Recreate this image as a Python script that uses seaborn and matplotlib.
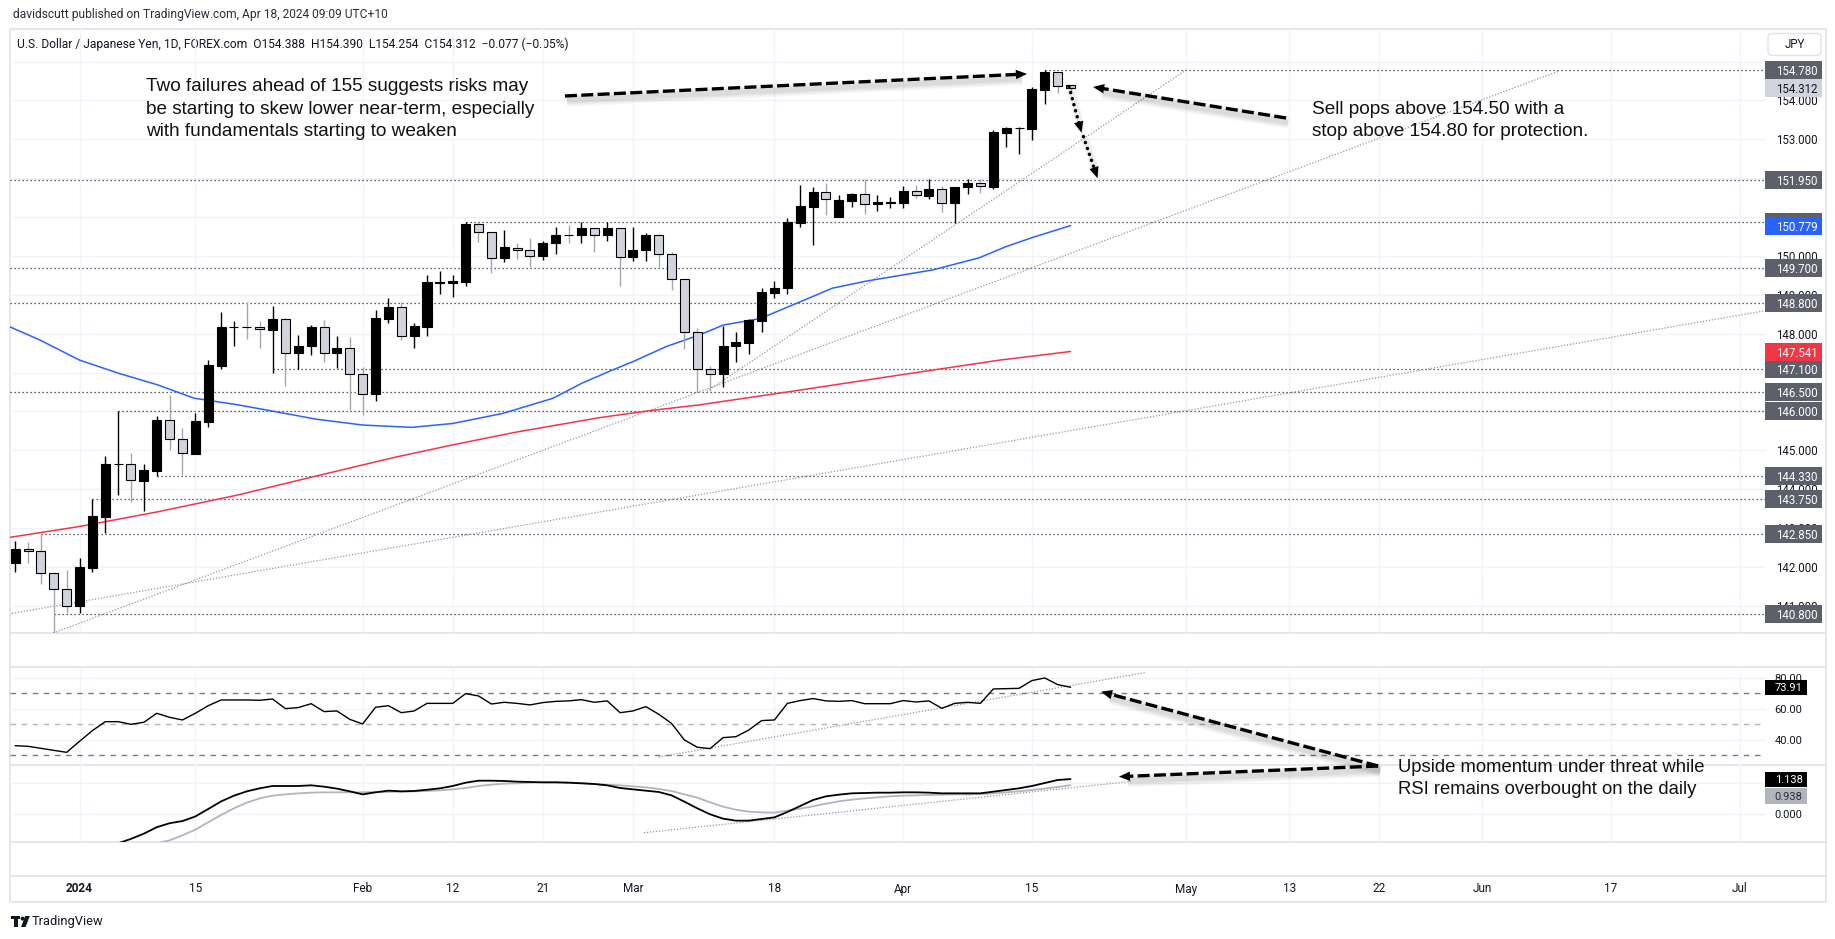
import numpy as np
import pandas as pd
import matplotlib
matplotlib.use("Agg")
import matplotlib.pyplot as plt
import matplotlib.transforms as mtrans
from matplotlib.patches import FancyArrowPatch, Rectangle, FancyBboxPatch, Circle, Polygon
from matplotlib import patheffects as pe
import seaborn as sns

# ---------------- DATA ----------------
# trading-day index: 0 = 2 Jan 2024
bar_idx = list(range(-5, 78))
opens = [142.11, 142.46, 142.41, 141.84, 141.43, 141.00, 141.98, 143.29, 144.64, 144.64,
         144.22, 144.47, 145.78, 145.28, 144.91, 145.74, 147.18, 148.17, 148.17, 148.17,
         148.10, 148.38, 147.51, 147.67, 148.17, 147.51, 147.62, 146.95, 146.44, 148.39,
         148.69, 147.95, 148.18, 149.31, 149.30, 149.34, 150.81, 150.61, 149.94, 150.21,
         150.14, 150.01, 150.32, 150.54, 150.53, 150.71, 150.53, 150.71, 149.98, 150.14,
         150.54, 150.04, 149.40, 148.05, 147.08, 146.95, 147.67, 147.77, 148.33, 149.05,
         149.17, 150.85, 151.27, 151.64, 151.01, 151.42, 151.59, 151.33, 151.35, 151.35,
         151.67, 151.55, 151.72, 151.35, 151.76, 151.87, 151.78, 153.17, 153.28, 153.26,
         154.27, 154.72, 154.388]
highs = [142.67, 142.65, 142.84, 141.84, 141.92, 142.22, 143.74, 144.85, 146.01, 144.94,
         144.64, 145.87, 146.42, 145.57, 145.97, 147.32, 148.55, 148.33, 148.81, 148.33,
         148.71, 148.41, 147.97, 148.22, 148.35, 147.94, 147.91, 147.15, 148.61, 148.93,
         148.81, 148.27, 149.51, 149.60, 149.51, 150.88, 150.86, 150.61, 150.67, 150.32,
         150.45, 150.39, 150.75, 150.80, 150.86, 150.71, 150.88, 150.71, 150.75, 150.58,
         150.56, 150.11, 149.40, 148.14, 147.17, 148.20, 148.05, 148.37, 149.17, 149.35,
         150.97, 151.82, 151.78, 151.88, 151.57, 151.63, 151.99, 151.57, 151.51, 151.80,
         151.82, 151.98, 151.80, 151.78, 151.97, 151.97, 153.24, 153.31, 153.32, 154.34,
         154.78, 154.72, 154.390]
lows = [141.88, 142.11, 141.56, 140.25, 140.81, 140.81, 141.88, 142.88, 143.84, 143.68,
        143.45, 144.34, 145.01, 144.36, 144.91, 145.61, 147.09, 147.69, 147.86, 147.64,
        147.00, 146.66, 147.09, 147.44, 147.28, 147.11, 146.04, 145.91, 146.28, 148.27,
        147.84, 147.64, 147.95, 149.02, 148.95, 149.23, 150.37, 149.57, 149.85, 149.91,
        149.71, 149.90, 150.04, 150.32, 150.32, 150.11, 150.39, 149.23, 149.88, 149.88,
        149.71, 149.12, 147.61, 146.51, 146.52, 146.64, 147.26, 147.47, 148.05, 148.93,
        149.02, 150.75, 150.28, 151.04, 151.01, 151.25, 151.07, 151.16, 151.22, 151.24,
        151.48, 151.46, 151.14, 150.84, 151.59, 151.61, 151.71, 152.79, 152.62, 152.98,
        153.91, 154.20, 154.254]
closes = [142.45, 142.40, 141.84, 141.43, 141.00, 141.99, 143.31, 144.65, 144.66, 144.23,
          144.50, 145.78, 145.28, 144.92, 145.75, 147.20, 148.17, 148.18, 148.16, 148.11,
          148.38, 147.51, 147.68, 148.17, 147.51, 147.62, 146.95, 146.44, 148.40, 148.69,
          147.95, 148.20, 149.33, 149.32, 149.36, 150.81, 150.61, 149.94, 150.23, 150.14,
          150.01, 150.34, 150.54, 150.53, 150.71, 150.53, 150.71, 149.98, 150.15, 150.54,
          150.04, 149.40, 148.05, 147.08, 146.95, 147.68, 147.78, 148.35, 149.06, 149.17,
          150.86, 151.28, 151.64, 151.46, 151.44, 151.59, 151.34, 151.39, 151.38, 151.67,
          151.56, 151.72, 151.35, 151.76, 151.87, 151.79, 153.18, 153.30, 153.29, 154.28,
          154.72, 154.38, 154.312]

ma_fast_k = [-5.44, -3.1, 0, 3.05, 6.1, 8.9, 12.3, 15.3, 18.4, 22, 25.8, 29, 32.9, 36.8, 39.0,
             41.3, 43.0, 45.6, 48.2, 50.0, 52.9, 56.0, 58.5, 61.1, 66.3, 69.9, 72.0, 74.1, 77.0]
ma_fast_v = [148.18, 147.84, 147.32, 146.98, 146.68, 146.34, 146.17, 145.99, 145.80, 145.65, 145.59,
             145.69, 145.95, 146.34, 146.72, 147.05, 147.28, 147.67, 147.97, 148.22, 148.39, 148.82,
             149.17, 149.35, 149.64, 149.95, 150.24, 150.48, 150.779]
ma_slow_k = [-5.44, 0, 6.1, 12.3, 18.4, 24.5, 29, 33.8, 40.4, 44.3, 48.2, 56, 63.8, 71.5, 77]
ma_slow_v = [142.76, 143.04, 143.42, 143.85, 144.34, 144.82, 145.14, 145.46, 145.84, 146.02,
             146.17, 146.55, 146.94, 147.32, 147.541]

rsi_vals = [36.2, 35.8, 34.5, 33.2, 31.9, 39.0, 45.9, 51.7, 51.7, 50.0,
            51.3, 57.1, 54.5, 52.8, 57.1, 62.0, 65.7, 65.7, 65.7, 65.5,
            66.3, 60.1, 60.8, 63.3, 58.2, 58.6, 53.2, 50.2, 61.0, 62.0,
            57.5, 58.6, 63.5, 63.5, 63.5, 69.8, 68.3, 63.1, 64.2, 63.5,
            62.5, 64.0, 64.8, 65.1, 65.9, 64.2, 65.1, 57.5, 58.6, 61.4,
            56.5, 50.6, 39.9, 35.2, 34.3, 41.4, 42.0, 46.3, 52.4, 52.8,
            63.5, 65.3, 66.6, 65.1, 64.8, 65.3, 63.3, 63.3, 63.3, 65.3,
            64.4, 65.1, 60.3, 63.5, 64.2, 63.5, 72.8, 73.0, 73.2, 78.2,
            79.9, 75.6, 73.91]
macd_k = list(range(3, 78))
macd_vals = [-0.955, -0.81, -0.64, -0.43, -0.30, -0.23, -0.08, 0.163, 0.41, 0.597,
             0.738, 0.836, 0.912, 0.912, 0.912, 0.934, 0.89, 0.826, 0.738, 0.64,
             0.706, 0.76, 0.738, 0.749, 0.79, 0.836, 0.912, 1.02, 1.085, 1.085,
             1.075, 1.053, 1.042, 1.031, 1.031, 1.02, 0.999, 0.977, 0.934, 0.847,
             0.803, 0.76, 0.717, 0.608, 0.402, 0.185, -0.01, -0.152, -0.217, -0.217,
             -0.163, -0.109, 0.065, 0.26, 0.456, 0.576, 0.63, 0.673, 0.684, 0.695,
             0.695, 0.706, 0.706, 0.695, 0.673, 0.673, 0.673, 0.673, 0.727, 0.782,
             0.836, 0.912, 1.01, 1.107, 1.138]
signal_k = list(range(6, 78))
signal_vals = [-0.955, -0.857, -0.695, -0.51, -0.27, -0.033, 0.185, 0.37, 0.51, 0.597,
               0.64, 0.673, 0.695, 0.706, 0.706, 0.706, 0.706, 0.717, 0.717, 0.727,
               0.738, 0.749, 0.77, 0.803, 0.847, 0.912, 0.955, 0.988, 0.999, 1.02,
               1.031, 1.031, 1.02, 1.01, 0.977, 0.955, 0.934, 0.901, 0.869, 0.815,
               0.749, 0.64, 0.532, 0.38, 0.239, 0.141, 0.076, 0.054, 0.043, 0.109,
               0.174, 0.25, 0.337, 0.413, 0.467, 0.51, 0.543, 0.576, 0.597, 0.608,
               0.619, 0.63, 0.64, 0.64, 0.651, 0.673, 0.706, 0.738, 0.782, 0.826,
               0.88, 0.938]

level_prices = [154.78, 151.95, 150.88, 149.70, 148.80, 147.10, 146.50, 146.00, 144.33, 143.75, 142.85, 140.80]
level_start = [75, -5.44, 30, -5.44, -5.44, 15, -5.44, 3, 6, 1, -3, -2]

trend_lines = [((-2.06, 140.30), (115.0, 154.76)),
               ((-5.48, 140.79), (130.96, 148.59)),
               ((48.76, 146.52), (85.97, 154.78))]
rsi_trend = ((45.0, 28.9), (82.9, 83.5))
macd_trend = ((43.86, -0.61), (81.7, 1.06))

date_ticks_k = [0, 9, 22, 29, 36, 43, 54, 64, 74, 86, 94, 101, 109, 119, 129]
date_ticks_lbl = ["2024", "15", "Feb", "12", "21", "Mar", "18", "Apr", "15", "May", "13", "22", "Jun", "17", "Jul"]
price_grid = list(range(141, 156))
price_tick_lbl = [141, 142, 143, 144, 145, 148, 149, 150, 153, 154]
rsi_grid = [80, 60, 40]
rsi_bands = [70, 50, 30]
macd_grid = [0.0, 1.0]

last_price = 154.312
ma_fast_last = 150.779
ma_slow_last = 147.541
rsi_last = 73.91
macd_last = 1.138
signal_last = 0.938

header_txt = "davidscutt published on TradingView.com, Apr 18, 2024 09:09 UTC+10"
legend_txt = "U.S. Dollar / Japanese Yen, 1D, FOREX.com  O154.388  H154.390  L154.254  C154.312  \u22120.077 (\u22120.05%)"
note_left = ["Two failures ahead of 155 suggests risks may",
             "be starting to skew lower near-term, especially",
             "with fundamentals starting to weaken"]
note_left_pos = (5.17, [154.229, 153.650, 153.072])
note_right = ["Sell pops above 154.50 with a", "stop above 154.80 for protection."]
note_right_pos = (95.73, [153.650, 153.072])
note_low = ["Upside momentum under threat while", "RSI remains overbought on the daily"]
note_low_pos = (102.45, [1.378, 0.651])

# arrows (start, end) in data coords of the pane they sit in
arrow_top = ((37.72, 154.113), (73.62, 154.68))
arrow_right = ((93.75, 153.547), (78.75, 154.345))
dots1 = ((76.88, 154.357), (77.86, 153.169))
dots2 = ((78.0, 153.07), (79.1, 152.0))
arrow_low_start = (100.9, 1.563)      # macd pane
arrow_low_rsi_end = (79.37, 71.03)    # rsi pane
arrow_low_macd_end = (80.76, 1.215)   # macd pane

# ---------------- STYLE ----------------
sns.set_theme(style="white")
plt.rcParams['font.family'] = ['Liberation Sans', 'DejaVu Sans']
UI = ['Roboto', 'DejaVu Sans']
TXT = '#131722'
GRID = '#f0f3fa'
BORDER = '#e0e3eb'

W, H, DPI = 1835, 939, 100
fig = plt.figure(figsize=(W / DPI, H / DPI), dpi=DPI, facecolor='white')


def px_box(x0, y0, x1, y1):
    return [x0 / W, 1 - y1 / H, (x1 - x0) / W, (y1 - y0) / H]


PL, PR = 9.5, 1766.0
XL, XR = -5.44, 131.04

ov = fig.add_axes([0, 0, 1, 1])
ov.set_xlim(0, W)
ov.set_ylim(H, 0)
ov.axis('off')
ov.set_zorder(-5)

ax = fig.add_axes(px_box(PL, 29, PR, 632.5))
ax_r = fig.add_axes(px_box(PL, 667, PR, 765))
ax_m = fig.add_axes(px_box(PL, 765, PR, 842))
ax_x = fig.add_axes(px_box(PL, 876, PR, 902))
YL = {ax: (140.314, 155.836), ax_r: (23.74, 86.97), ax_m: (-0.912, 1.596), ax_x: (0, 1)}


def fix_axes():
    for a, yl in YL.items():
        a.set_xlim(XL, XR)
        a.set_ylim(*yl)


for a in (ax, ax_r, ax_m, ax_x):
    a.set_facecolor('none')
    for s in a.spines.values():
        s.set_visible(False)
    a.set_xticks([])
    a.set_yticks([])
    a.grid(False)
fix_axes()

# pane borders
for y in (29, 632.5, 667, 765, 842, 876, 902):
    ov.plot([PL, 1825.5], [y, y], color=BORDER, lw=1.2, solid_capstyle='butt')
for x in (PL, 1825.5):
    ov.plot([x, x], [29, 902], color=BORDER, lw=1.2)

# grids
for a in (ax, ax_r, ax_m):
    for k in date_ticks_k:
        a.axvline(k, color=GRID, lw=1, zorder=0)
for p in price_grid:
    ax.axhline(p, color=GRID, lw=1, zorder=0)
for v in rsi_grid:
    ax_r.axhline(v, color=GRID, lw=1, zorder=0)
for v in macd_grid:
    ax_m.axhline(v, color=GRID, lw=1, zorder=0)

# horizontal levels
for p, k0 in zip(level_prices, level_start):
    ax.plot([k0, XR], [p, p], color='#2a2e39', lw=0.9, ls=(0, (1, 2.2)), zorder=1)

# trend lines
for (x0, y0), (x1, y1) in trend_lines:
    ax.plot([x0, x1], [y0, y1], color='#9598a1', lw=0.9, ls=(0, (1, 1.4)), zorder=1)
ax_r.plot([rsi_trend[0][0], rsi_trend[1][0]], [rsi_trend[0][1], rsi_trend[1][1]],
          color='#9598a1', lw=0.9, ls=(0, (1, 1.4)), zorder=1)
ax_m.plot([macd_trend[0][0], macd_trend[1][0]], [macd_trend[0][1], macd_trend[1][1]],
          color='#9598a1', lw=0.9, ls=(0, (1, 1.4)), zorder=1)

# moving averages
sns.lineplot(x=ma_fast_k, y=ma_fast_v, ax=ax, color='#2962ff', lw=1.1, zorder=2)
sns.lineplot(x=ma_slow_k, y=ma_slow_v, ax=ax, color='#f23645', lw=1.1, zorder=2)

# candles
kk = np.array(bar_idx, float)
o, h, l, c = (np.array(v, float) for v in (opens, highs, lows, closes))
up = c >= o
ax.vlines(kk[up], l[up], h[up], color='#000000', lw=1, zorder=3)
ax.vlines(kk[~up], l[~up], h[~up], color='#a3a6af', lw=1, zorder=3)
ax.bar(kk[up], (c - o)[up], bottom=o[up], width=0.7, color='#000000', edgecolor='#000000', lw=0.8, zorder=4)
ax.bar(kk[~up], (o - c)[~up], bottom=c[~up], width=0.7, color='#d1d4dc', edgecolor='#000000', lw=0.8, zorder=4)

# RSI pane
rsi_k = list(range(-5, -5 + len(rsi_vals)))
for v, col in zip(rsi_bands, ['#787b86', '#b2b5be', '#787b86']):
    ax_r.axhline(v, color=col, lw=1, ls=(0, (4, 4)), zorder=1)
sns.lineplot(x=rsi_k, y=rsi_vals, ax=ax_r, color='#000000', lw=1.0, zorder=3)

# MACD pane
sns.lineplot(x=signal_k, y=signal_vals, ax=ax_m, color='#b2b5be', lw=1.3, zorder=2)
sns.lineplot(x=macd_k, y=macd_vals, ax=ax_m, color='#000000', lw=1.3, zorder=3)

for a in (ax, ax_r, ax_m, ax_x):
    a.set_xlabel('')
    a.set_ylabel('')
    a.set_xticks([])
    a.set_yticks([])
fix_axes()


# ---------------- right-hand scale labels ----------------
def right_label(a, y, text, face, tc, x0, x1, hpx, fs=8.3, dy=0.0, z=20):
    pos = a.get_position()
    aw, ah = pos.width * W, pos.height * H
    lo, hi = a.get_ylim()
    dpp = (hi - lo) / ah
    left = pos.x0 * W
    f0 = (x0 - left) / aw
    f1 = (x1 - left) / aw
    yc = y + dy * dpp
    tr = mtrans.blended_transform_factory(a.transAxes, a.transData)
    if face is not None:
        a.add_patch(Rectangle((f0, yc - hpx / 2 * dpp), f1 - f0, hpx * dpp, transform=tr,
                              facecolor=face, edgecolor='none', clip_on=False, zorder=z))
    a.text(f1 - 4.5 / aw, yc, text, transform=tr, ha='right', va='center_baseline', color=tc,
           fontsize=fs, family=UI, clip_on=False, zorder=z + 0.5)


for p in price_tick_lbl:
    right_label(ax, p, f"{p:.3f}", None, TXT, 1765, 1822, 18, z=15)
for p in level_prices:
    right_label(ax, p, f"{p:.3f}", '#5d606b', 'white', 1765, 1822, 18, z=20)
right_label(ax, ma_fast_last, f"{ma_fast_last:.3f}", '#2962ff', 'white', 1765, 1822, 18, z=22)
right_label(ax, ma_slow_last, f"{ma_slow_last:.3f}", '#f23645', 'white', 1765, 1822, 18, z=22)
right_label(ax, last_price, f"{last_price:.3f}", '#d1d4dc', TXT, 1765, 1822, 18, z=23)

for v in rsi_grid:
    right_label(ax_r, v, f"{v:.2f}", None, TXT, 1765, 1807, 15, fs=8.0, z=15)
right_label(ax_r, rsi_last, f"{rsi_last:.2f}", '#000000', 'white', 1765, 1807, 15, fs=8.0, z=20)
right_label(ax_m, 0.0, "0.000", None, TXT, 1765, 1807, 15, fs=8.0, z=15)
right_label(ax_m, macd_last, f"{macd_last:.3f}", '#000000', 'white', 1765, 1807, 15, fs=8.0, z=21)
right_label(ax_m, signal_last, f"{signal_last:.3f}", '#b2b5be', '#2a2e39', 1765, 1807, 16, fs=8.0, dy=-10.3, z=20)

# date labels
for k, lbl in zip(date_ticks_k, date_ticks_lbl):
    ax_x.text(k, 0.5, lbl, transform=ax_x.get_xaxis_transform(), ha='center', va='center',
              fontsize=8.5, color=TXT, family=UI, fontweight='bold' if lbl == '2024' else 'normal')

# ---------------- header / chrome ----------------
renderer = fig.canvas.get_renderer()


def fit_text(axis, x, y, s, width, base=9.0, **kw):
    t = axis.text(x, y, s, fontsize=base, **kw)
    w = t.get_window_extent(renderer=renderer).width
    t.set_fontsize(base * width / w)
    return t


fit_text(ov, 13, 14.5, header_txt, 378, ha='left', va='center', color='#2a2e39', family=UI)
fit_text(ov, 17, 44.5, legend_txt, 552, ha='left', va='center', color=TXT, family=UI)
ov.add_patch(FancyBboxPatch((1768, 33.5), 53, 22, boxstyle='round,pad=0,rounding_size=4',
                            facecolor='white', edgecolor=BORDER, lw=1))
ov.text(1794.5, 44.8, "JPY", ha='center', va='center', fontsize=8.3, color=TXT, family=UI)

# TradingView logo
ov.add_patch(Rectangle((11, 916), 9, 3.2, color='#131722', lw=0))
ov.add_patch(Rectangle((14.4, 916), 3.2, 11, color='#131722', lw=0))
ov.add_patch(Circle((22.6, 918.6), 2.0, color='#131722', lw=0))
ov.add_patch(Polygon([(25.2, 916), (29.8, 916), (25.6, 927), (21.0, 927)], closed=True, color='#131722', lw=0))
fit_text(ov, 32, 921.5, "TradingView", 72, ha='left', va='center', color=TXT, family=UI)

# ---------------- annotation texts ----------------
NOTE = dict(family=['Liberation Sans', 'DejaVu Sans'], color='#111111', ha='left', va='baseline', zorder=25)
for s, yb in zip(note_left, note_left_pos[1]):
    ax.text(note_left_pos[0], yb, s, fontsize=13.66, **NOTE)
for s, yb in zip(note_right, note_right_pos[1]):
    ax.text(note_right_pos[0], yb, s, fontsize=13.66, **NOTE)
for s, yb in zip(note_low, note_low_pos[1]):
    ax_m.text(note_low_pos[0], yb, s, fontsize=13.3, clip_on=False, **NOTE)

# ---------------- arrows ----------------
SOLID = {'dash_offset': 0, 'dash_list': None}


def soft_shadow(widths, alpha, off):
    return [pe.SimpleLineShadow(offset=off, shadow_color='black', alpha=alpha, linewidth=w, dashes=SOLID)
            for w in widths]


def draw_arrow(tr0, p0, tr1, p1, dotted=False):
    a = np.array(tr0.transform(p0), float)
    b = np.array(tr1.transform(p1), float)
    u = (b - a) / np.hypot(*(b - a))
    hl = 12.0
    b_line = b - u * hl * 0.6
    if dotted:
        ls, lw, caps = (0, (0.05, 1.75)), 2.5, 'round'
        shadow = soft_shadow([6, 4], 0.035, (1.5, -2.5)) + [pe.Normal()]
    else:
        ls, lw, caps = (0, (3.6, 1.3)), 2.4, 'butt'
        shadow = soft_shadow([9, 7, 5, 3.5], 0.035, (1.5, -3.2)) + [pe.Normal()]
    line = FancyArrowPatch(posA=tuple(a), posB=tuple(b_line), arrowstyle='-', transform=mtrans.IdentityTransform(),
                           linestyle=ls, linewidth=lw, color='black', capstyle=caps, shrinkA=0, shrinkB=0,
                           path_effects=shadow, zorder=30)
    fig.add_artist(line)
    head = FancyArrowPatch(posA=tuple(b - u * hl * 1.5), posB=tuple(b),
                           arrowstyle='-|>,head_length=0.8,head_width=0.34', mutation_scale=10,
                           transform=mtrans.IdentityTransform(), lw=0, color='black',
                           shrinkA=0, shrinkB=0, zorder=31)
    fig.add_artist(head)


draw_arrow(ax.transData, arrow_top[0], ax.transData, arrow_top[1])
draw_arrow(ax.transData, arrow_right[0], ax.transData, arrow_right[1])
draw_arrow(ax.transData, dots1[0], ax.transData, dots1[1], dotted=True)
draw_arrow(ax.transData, dots2[0], ax.transData, dots2[1], dotted=True)
draw_arrow(ax_m.transData, arrow_low_start, ax_r.transData, arrow_low_rsi_end)
draw_arrow(ax_m.transData, arrow_low_start, ax_m.transData, arrow_low_macd_end)

fix_axes()
fig.savefig('out.png', dpi=DPI, facecolor='white')
